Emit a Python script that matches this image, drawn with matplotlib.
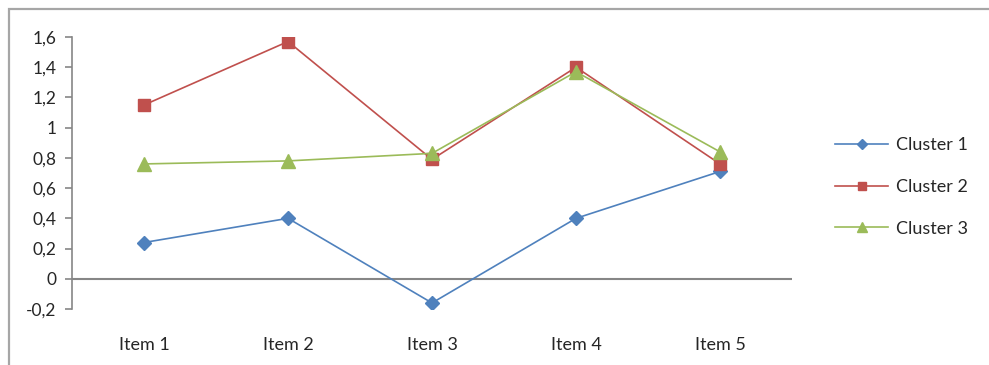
import matplotlib.pyplot as plt
from matplotlib.patches import Rectangle
from matplotlib.ticker import FuncFormatter

items = ["Item 1", "Item 2", "Item 3", "Item 4", "Item 5"]
cluster1 = [0.24, 0.40, -0.16, 0.40, 0.71]
cluster2 = [1.15, 1.57, 0.79, 1.40, 0.76]
cluster3 = [0.76, 0.78, 0.83, 1.37, 0.84]
y_ticks = [-0.2, 0, 0.2, 0.4, 0.6, 0.8, 1.0, 1.2, 1.4, 1.6]

plt.rcParams['font.family'] = ['Lato', 'DejaVu Sans']

W, H = 989, 365
fig = plt.figure(figsize=(W / 100, H / 100), dpi=100)
ax = fig.add_axes([72 / W, 1 - 309 / H, 720 / W, (309 - 37) / H])

# chart-area frame, cut off on the right and bottom
fig.patches.append(Rectangle((9 / W, -0.1), 1.2, 1 - 9 / H + 0.1, transform=fig.transFigure,
                             fill=False, edgecolor='#a6a6a6', linewidth=1.6))

x = list(range(1, len(items) + 1))
ax.plot(x, cluster1, color='#4f81bd', lw=1.2, marker='D', ms=7.5, label='Cluster 1')
ax.plot(x, cluster2, color='#c0504d', lw=1.2, marker='s', ms=8, label='Cluster 2')
ax.plot(x, cluster3, color='#9bbb59', lw=1.2, marker='^', ms=10, label='Cluster 3')

ax.set_xlim(0.5, 5.5)
ax.set_ylim(-0.2, 1.6)
ax.set_yticks(y_ticks)
ax.yaxis.set_major_formatter(FuncFormatter(lambda v, p: f"{v:g}".replace('.', ',')))
ax.set_xticks(x)
ax.set_xticklabels(items)

for s in ['top', 'right', 'bottom']:
    ax.spines[s].set_visible(False)
ax.spines['left'].set_color('#868686')
ax.spines['left'].set_linewidth(1.2)
ax.axhline(0, color='#868686', lw=1.5, zorder=1)

ax.tick_params(axis='y', direction='out', length=5, width=1.2, color='#868686',
               labelsize=12.5, labelcolor='#262626', pad=6)
ax.tick_params(axis='x', length=0, labelsize=13, labelcolor='#262626', pad=20)

ax.legend(loc='center left', bbox_to_anchor=(1.06, 0.449), frameon=False, fontsize=13,
          labelcolor='#262626', handlelength=2.95, labelspacing=1.43, handletextpad=0.4,
          borderpad=0, borderaxespad=0, markerscale=0.7)

fig.savefig('out.png', dpi=100)
